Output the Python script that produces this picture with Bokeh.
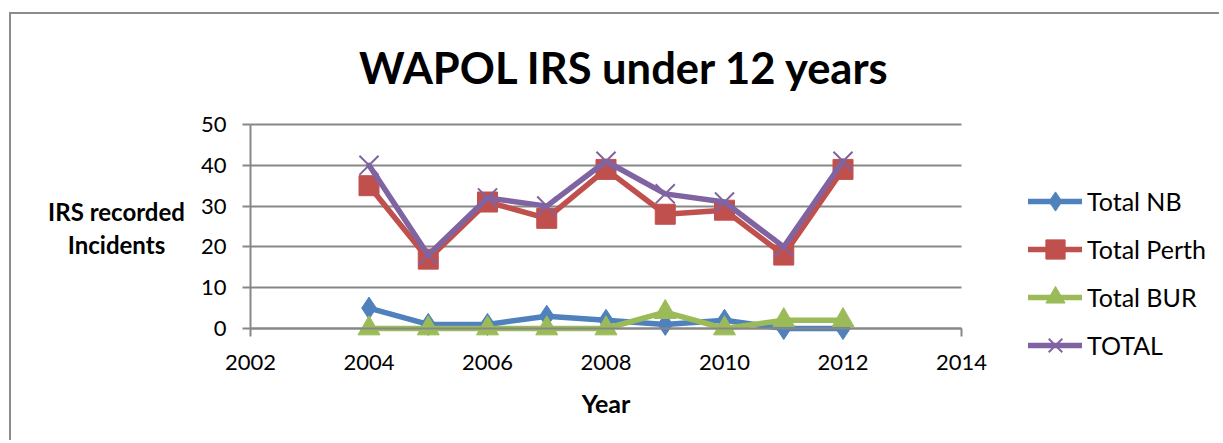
from bokeh.plotting import figure
from bokeh.models import Range1d, FixedTicker, Legend, LegendItem, Label, LinearAxis
from bokeh.embed import file_html
from bokeh.resources import INLINE

# ---- data ----
years = [2004, 2005, 2006, 2007, 2008, 2009, 2010, 2011, 2012]
total_nb = [5, 1, 1, 3, 2, 1, 2, 0, 0]
total_perth = [35, 17, 31, 27, 39, 28, 29, 18, 39]
total_bur = [0, 0, 0, 0, 0, 4, 0, 2, 2]
total_all = [40, 18, 32, 30, 41, 33, 31, 20, 41]
x_ticks = [2002, 2004, 2006, 2008, 2010, 2012, 2014]
y_ticks = [0, 10, 20, 30, 40, 50]
series_names = ["Total NB", "Total Perth", "Total BUR", "TOTAL"]
chart_title = "WAPOL IRS under 12 years"
x_label = "Year"
y_label = "IRS recorded\nIncidents"

FONT = "Lato"
GRID = "#878787"
colors = ["#4F81BD", "#C0504D", "#9BBB59", "#8064A2"]

# ---- layout geometry (pixels, relative to the plot frame) ----
W, H = 1210, 428
FRAME_W, FRAME_H = W, H
AX_X0, AX_X1 = 239, 950      # where 2002 / 2014 fall (from frame left)
AX_Y0, AX_Y1 = 314, 110      # where 0 / 50 fall (from frame top)
xmin, xmax = x_ticks[0], x_ticks[-1]
ymin, ymax = y_ticks[0], y_ticks[-1]
xs = (xmax - xmin) / (AX_X1 - AX_X0)
ys = (ymax - ymin) / (AX_Y0 - AX_Y1)
x_range = Range1d(xmin - AX_X0 * xs, xmax + (FRAME_W - AX_X1) * xs)
y_range = Range1d(ymin - (FRAME_H - AX_Y0) * ys, ymax + AX_Y1 * ys)

p = figure(width=W, height=H, output_backend="svg", toolbar_location=None,
           x_range=x_range, y_range=y_range,
           min_border_left=0, min_border_right=0, min_border_top=0,
           min_border_bottom=0, x_axis_location=None, y_axis_location=None)
p.margin = (12, 0, 0, 9)
p.styles = {"border-left": "2px solid #8c8c8c", "border-top": "2px solid #8c8c8c"}
p.outline_line_color = None
p.background_fill_color = "white"
p.border_fill_color = "white"

# chart title
title = Label(x=613.5, y=FRAME_H - 52, x_units="screen", y_units="screen",
              text=chart_title, text_align="center", text_baseline="middle",
              text_font=FONT, text_font_size="43.5px", text_font_style="bold",
              text_color="black")
p.add_layout(title)

xaxis = LinearAxis(fixed_location=ymin, bounds=(xmin, xmax),
                   ticker=FixedTicker(ticks=x_ticks, minor_ticks=[xmin, xmax]))
yaxis = LinearAxis(fixed_location=xmin, bounds=(ymin, ymax),
                   ticker=FixedTicker(ticks=y_ticks, minor_ticks=[]))
p.add_layout(xaxis, "below")
p.add_layout(yaxis, "left")
for ax in (xaxis, yaxis):
    ax.axis_line_color = GRID
    ax.axis_line_width = 2
    ax.major_label_text_font = FONT
    ax.major_label_text_font_size = "22px"
    ax.major_label_text_color = "black"
    ax.axis_label_text_font = FONT
    ax.axis_label_text_font_size = "25px"
    ax.axis_label_text_font_style = "bold"
    ax.axis_label_text_color = "black"
xaxis.major_tick_out = 0
xaxis.major_tick_in = 0
xaxis.minor_tick_out = 8
xaxis.minor_tick_in = 0
xaxis.minor_tick_line_color = GRID
xaxis.minor_tick_line_width = 2
xaxis.major_label_standoff = 18
xaxis.axis_label = x_label
xaxis.axis_label_standoff = 15

yaxis.major_tick_out = 8
yaxis.major_tick_in = 0
yaxis.major_tick_line_color = GRID
yaxis.major_tick_line_width = 2
yaxis.minor_tick_line_color = None
yaxis.major_label_standoff = 16

p.xgrid.visible = False
p.ygrid.grid_line_color = GRID
p.ygrid.grid_line_width = 2
p.ygrid.ticker = yaxis.ticker
p.ygrid.cross_bounds = (xmin, xmax)

# y-axis title, horizontal and centred (as in the reference)
ylab = Label(x=105, y=FRAME_H - 213.5, x_units="screen", y_units="screen", text=y_label,
             text_align="center", text_baseline="middle", text_font=FONT,
             text_font_size="24px", text_font_style="bold", text_color="black",
             text_line_height=1.13)
p.add_layout(ylab)

# series
items = []
series = [total_nb, total_perth, total_bur, total_all]
markers = [("diamond", 22), ("square", 20), ("triangle", 22), ("x", 27)]
for name, vals, col, (mk, sz) in zip(series_names, series, colors, markers):
    ln = p.line(years, vals, line_color=col, line_width=5.5, line_cap="round", line_join="round")
    if mk == "x":
        sc = p.scatter(years, vals, marker=mk, size=sz, line_color=col, line_width=2)
    else:
        sc = p.scatter(years, vals, marker=mk, size=sz, fill_color=col, line_color=col)
    items.append(LegendItem(label=name, renderers=[ln, sc]))

legend = Legend(items=items, location=(1017, 73), orientation="vertical",
                glyph_width=54, glyph_height=48, label_height=48, spacing=0,
                padding=0, margin=0, border_line_color=None, background_fill_alpha=0,
                label_standoff=5, label_text_font=FONT, label_text_font_size="25px",
                label_text_color="black")
p.add_layout(legend)

open("out.html", "w").write(file_html(p, INLINE))
